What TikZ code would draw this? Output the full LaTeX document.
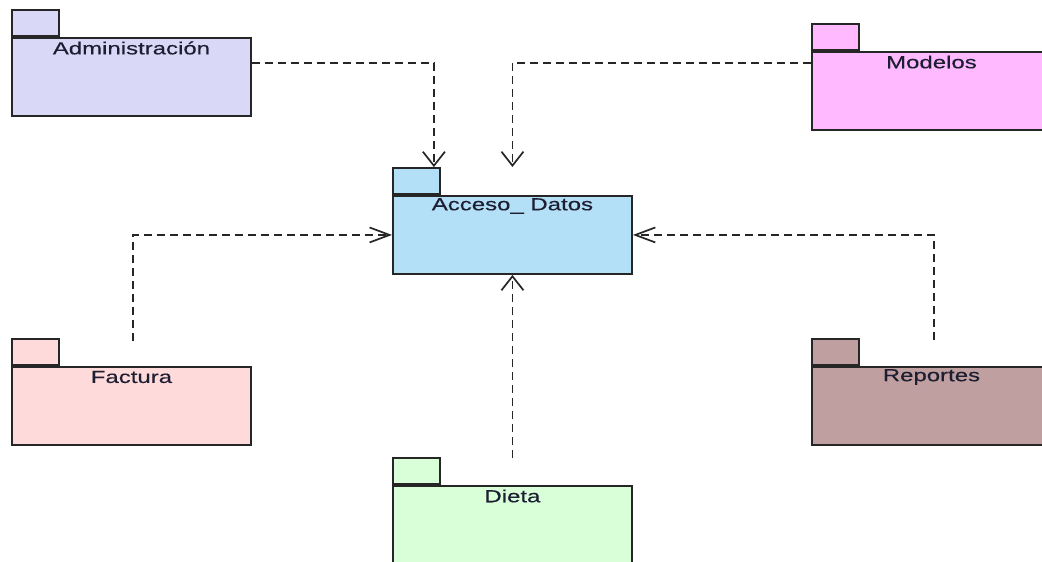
\documentclass[tikz,border=0pt]{standalone}
\usepackage{fontspec}
\setmainfont{Liberation Sans}[FakeStretch=1.37,FakeBold=0.3]
\usetikzlibrary{arrows.meta,calc}
\definecolor{admcol}{HTML}{D9D9F7}
\definecolor{modcol}{HTML}{FFB9FF}
\definecolor{acccol}{HTML}{B3DFF7}
\definecolor{faccol}{HTML}{FFDADA}
\definecolor{repcol}{HTML}{BF9F9F}
\definecolor{diecol}{HTML}{D9FFD9}
\definecolor{edgecol}{HTML}{262626}
\definecolor{lblcol}{HTML}{1E1E32}
\tikzset{
  pkgbody/.style={draw=edgecol, line width=1.9pt, rectangle, minimum width=239pt, minimum height=78pt, inner sep=0pt, anchor=north west},
  pkgtab/.style={draw=edgecol, line width=1.9pt, rectangle, minimum width=47pt, minimum height=26pt, inner sep=0pt, anchor=south west},
  pkglabel/.style={text=lblcol, font=\fontsize{17.5}{20}\selectfont, inner sep=0pt},
  dep/.style={draw=edgecol, line width=1.7pt, dash pattern=on 8pt off 5pt},
  vtip/.style={-{Straight Barb[length=14pt,width=22pt,line width=1.7pt]}},
  htip/.style={-{Straight Barb[length=20pt,width=15pt,line width=1.7pt]}}
}
\newcommand\umlpkg[5]{%
  \node[pkgbody, fill=#4] (#1) at (#2,#3) {};
  \node[pkgtab, fill=#4] (#1-tab) at (#1.north west) {};
  \node[pkglabel] (#1-lbl) at ([yshift=-11pt]#1.north) {#5};
}
\begin{document}
\begin{tikzpicture}[x=1pt,y=-1pt]
\useasboundingbox (0,0) rectangle (1042,562);
\fill[white] (0,0) rectangle (1042,562);
\umlpkg{adm}{11}{37}{admcol}{Administración}
\umlpkg{mod}{811}{51}{modcol}{Modelos}
\umlpkg{acc}{392}{195}{acccol}{Acceso\_ Datos}
\umlpkg{fac}{11}{366}{faccol}{Factura}
\umlpkg{rep}{811}{366}{repcol}{Reportes}
\umlpkg{die}{392}{485}{diecol}{Dieta}
% dependencies
\draw[dep,vtip] ([yshift=-26pt]adm.north east) -| ([xshift=-7pt]acc-tab.north east);
\draw[dep,vtip] ([yshift=-12pt]mod.north west) -| ([yshift=28pt]acc.north);
\draw[dep,htip] ([xshift=1.5pt,yshift=25pt]fac.north) |- (acc.west);
\draw[dep,htip] ([xshift=2.5pt,yshift=26pt]rep.north) |- (acc.east);
\draw[dep,vtip] ([yshift=27pt]die.north) -- (acc.south);
\end{tikzpicture}
\end{document}
